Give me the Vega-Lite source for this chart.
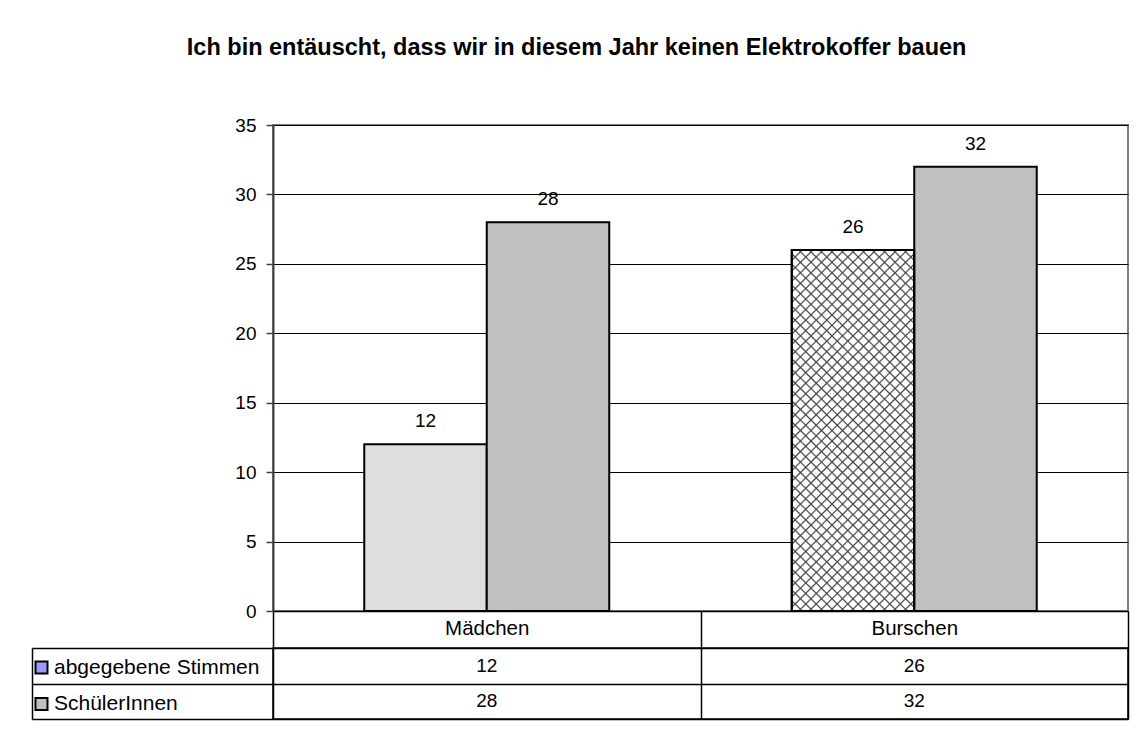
{
  "$schema": "https://vega.github.io/schema/vega-lite/v6.json",
  "background": "white",
  "padding": {"left": 30, "top": 36, "right": 5, "bottom": 5},
  "bounds": "flush",
  "spacing": 37,
  "title": {
    "text": "Ich bin entäuscht, dass wir in diesem Jahr keinen Elektrokoffer bauen",
    "fontSize": 23.5,
    "fontWeight": "bold",
    "font": "Liberation Sans",
    "color": "black",
    "anchor": "middle",
    "dx": -3.5,
    "offset": 55.5
  },
  "datasets": {
    "werte": [
      {"kategorie": "Mädchen", "serie": "abgegebene Stimmen", "wert": 12},
      {"kategorie": "Mädchen", "serie": "SchülerInnen", "wert": 28},
      {"kategorie": "Burschen", "serie": "abgegebene Stimmen", "wert": 26},
      {"kategorie": "Burschen", "serie": "SchülerInnen", "wert": 32}
    ]
  },
  "vconcat": [
    {
      "width": 855,
      "height": 486,
      "data": {"name": "werte"},
      "view": {"stroke": "#808080", "strokeWidth": 2},
      "encoding": {
        "x": {
          "field": "kategorie",
          "type": "nominal",
          "sort": ["Mädchen", "Burschen"],
          "scale": {"paddingInner": 0, "paddingOuter": 0},
          "axis": {
            "title": null,
            "labelAngle": 0,
            "tickBand": "extent",
            "tickSize": 37,
            "tickColor": "black",
            "tickWidth": 1.5,
            "domainColor": "black",
            "domainWidth": 1.5,
            "labelPadding": -30,
            "labelFontSize": 20.5,
            "labelColor": "black",
            "grid": false
          }
        },
        "xOffset": {
          "field": "serie",
          "type": "nominal",
          "sort": ["abgegebene Stimmen", "SchülerInnen"],
          "scale": {"paddingInner": 0, "paddingOuter": 0.745}
        },
        "y": {
          "field": "wert",
          "type": "quantitative",
          "scale": {"domain": [0, 35], "nice": false},
          "axis": {
            "title": null,
            "values": [0, 5, 10, 15, 20, 25, 30, 35],
            "domainColor": "#404040",
            "domainWidth": 2,
            "tickColor": "#404040",
            "tickWidth": 1.5,
            "tickSize": 7,
            "labelPadding": 10,
            "labelFontSize": 19,
            "labelColor": "black",
            "grid": true,
            "gridColor": "black",
            "gridWidth": 1,
            "gridOpacity": 1
          }
        }
      },
      "layer": [
        {
          "mark": {"type": "bar", "stroke": "black", "strokeWidth": 2},
          "encoding": {
            "fill": {
              "condition": [
                {"test": "datum.serie === 'SchülerInnen'", "value": "#c0c0c0"},
                {"test": "datum.kategorie === 'Mädchen'", "value": "#dedede"}
              ],
              "value": {
                "gradient": "linear",
                "x1": 0, "y1": 0, "x2": 0.4076, "y2": 1.2011,
                "stops": [
                  {"offset": 0, "color": "#444"}, {"offset": 0.0035, "color": "#fff"}, {"offset": 0.0182, "color": "#fff"},
                  {"offset": 0.0217, "color": "#444"}, {"offset": 0.0252, "color": "#fff"}, {"offset": 0.0400, "color": "#fff"},
                  {"offset": 0.0435, "color": "#444"}, {"offset": 0.0470, "color": "#fff"}, {"offset": 0.0617, "color": "#fff"},
                  {"offset": 0.0652, "color": "#444"}, {"offset": 0.0687, "color": "#fff"}, {"offset": 0.0835, "color": "#fff"},
                  {"offset": 0.0870, "color": "#444"}, {"offset": 0.0905, "color": "#fff"}, {"offset": 0.1052, "color": "#fff"},
                  {"offset": 0.1087, "color": "#444"}, {"offset": 0.1122, "color": "#fff"}, {"offset": 0.1269, "color": "#fff"},
                  {"offset": 0.1304, "color": "#444"}, {"offset": 0.1339, "color": "#fff"}, {"offset": 0.1487, "color": "#fff"},
                  {"offset": 0.1522, "color": "#444"}, {"offset": 0.1557, "color": "#fff"}, {"offset": 0.1704, "color": "#fff"},
                  {"offset": 0.1739, "color": "#444"}, {"offset": 0.1774, "color": "#fff"}, {"offset": 0.1922, "color": "#fff"},
                  {"offset": 0.1957, "color": "#444"}, {"offset": 0.1992, "color": "#fff"}, {"offset": 0.2139, "color": "#fff"},
                  {"offset": 0.2174, "color": "#444"}, {"offset": 0.2209, "color": "#fff"}, {"offset": 0.2356, "color": "#fff"},
                  {"offset": 0.2391, "color": "#444"}, {"offset": 0.2426, "color": "#fff"}, {"offset": 0.2574, "color": "#fff"},
                  {"offset": 0.2609, "color": "#444"}, {"offset": 0.2644, "color": "#fff"}, {"offset": 0.2791, "color": "#fff"},
                  {"offset": 0.2826, "color": "#444"}, {"offset": 0.2861, "color": "#fff"}, {"offset": 0.3008, "color": "#fff"},
                  {"offset": 0.3043, "color": "#444"}, {"offset": 0.3078, "color": "#fff"}, {"offset": 0.3226, "color": "#fff"},
                  {"offset": 0.3261, "color": "#444"}, {"offset": 0.3296, "color": "#fff"}, {"offset": 0.3443, "color": "#fff"},
                  {"offset": 0.3478, "color": "#444"}, {"offset": 0.3513, "color": "#fff"}, {"offset": 0.3661, "color": "#fff"},
                  {"offset": 0.3696, "color": "#444"}, {"offset": 0.3731, "color": "#fff"}, {"offset": 0.3878, "color": "#fff"},
                  {"offset": 0.3913, "color": "#444"}, {"offset": 0.3948, "color": "#fff"}, {"offset": 0.4095, "color": "#fff"},
                  {"offset": 0.4130, "color": "#444"}, {"offset": 0.4165, "color": "#fff"}, {"offset": 0.4313, "color": "#fff"},
                  {"offset": 0.4348, "color": "#444"}, {"offset": 0.4383, "color": "#fff"}, {"offset": 0.4530, "color": "#fff"},
                  {"offset": 0.4565, "color": "#444"}, {"offset": 0.4600, "color": "#fff"}, {"offset": 0.4748, "color": "#fff"},
                  {"offset": 0.4783, "color": "#444"}, {"offset": 0.4818, "color": "#fff"}, {"offset": 0.4965, "color": "#fff"},
                  {"offset": 0.5000, "color": "#444"}, {"offset": 0.5035, "color": "#fff"}, {"offset": 0.5182, "color": "#fff"},
                  {"offset": 0.5217, "color": "#444"}, {"offset": 0.5252, "color": "#fff"}, {"offset": 0.5400, "color": "#fff"},
                  {"offset": 0.5435, "color": "#444"}, {"offset": 0.5470, "color": "#fff"}, {"offset": 0.5617, "color": "#fff"},
                  {"offset": 0.5652, "color": "#444"}, {"offset": 0.5687, "color": "#fff"}, {"offset": 0.5835, "color": "#fff"},
                  {"offset": 0.5870, "color": "#444"}, {"offset": 0.5905, "color": "#fff"}, {"offset": 0.6052, "color": "#fff"},
                  {"offset": 0.6087, "color": "#444"}, {"offset": 0.6122, "color": "#fff"}, {"offset": 0.6269, "color": "#fff"},
                  {"offset": 0.6304, "color": "#444"}, {"offset": 0.6339, "color": "#fff"}, {"offset": 0.6487, "color": "#fff"},
                  {"offset": 0.6522, "color": "#444"}, {"offset": 0.6557, "color": "#fff"}, {"offset": 0.6704, "color": "#fff"},
                  {"offset": 0.6739, "color": "#444"}, {"offset": 0.6774, "color": "#fff"}, {"offset": 0.6922, "color": "#fff"},
                  {"offset": 0.6957, "color": "#444"}, {"offset": 0.6992, "color": "#fff"}, {"offset": 0.7139, "color": "#fff"},
                  {"offset": 0.7174, "color": "#444"}, {"offset": 0.7209, "color": "#fff"}, {"offset": 0.7356, "color": "#fff"},
                  {"offset": 0.7391, "color": "#444"}, {"offset": 0.7426, "color": "#fff"}, {"offset": 0.7574, "color": "#fff"},
                  {"offset": 0.7609, "color": "#444"}, {"offset": 0.7644, "color": "#fff"}, {"offset": 0.7791, "color": "#fff"},
                  {"offset": 0.7826, "color": "#444"}, {"offset": 0.7861, "color": "#fff"}, {"offset": 0.8008, "color": "#fff"},
                  {"offset": 0.8043, "color": "#444"}, {"offset": 0.8078, "color": "#fff"}, {"offset": 0.8226, "color": "#fff"},
                  {"offset": 0.8261, "color": "#444"}, {"offset": 0.8296, "color": "#fff"}, {"offset": 0.8443, "color": "#fff"},
                  {"offset": 0.8478, "color": "#444"}, {"offset": 0.8513, "color": "#fff"}, {"offset": 0.8661, "color": "#fff"},
                  {"offset": 0.8696, "color": "#444"}, {"offset": 0.8731, "color": "#fff"}, {"offset": 0.8878, "color": "#fff"},
                  {"offset": 0.8913, "color": "#444"}, {"offset": 0.8948, "color": "#fff"}, {"offset": 0.9095, "color": "#fff"},
                  {"offset": 0.9130, "color": "#444"}, {"offset": 0.9165, "color": "#fff"}, {"offset": 0.9313, "color": "#fff"},
                  {"offset": 0.9348, "color": "#444"}, {"offset": 0.9383, "color": "#fff"}, {"offset": 0.9530, "color": "#fff"},
                  {"offset": 0.9565, "color": "#444"}, {"offset": 0.9600, "color": "#fff"}, {"offset": 0.9748, "color": "#fff"},
                  {"offset": 0.9783, "color": "#444"}, {"offset": 0.9818, "color": "#fff"}, {"offset": 0.9965, "color": "#fff"},
                  {"offset": 1, "color": "#444"}
                ]
              }
            }
          }
        },
        {
          "transform": [{"filter": "datum.serie === 'abgegebene Stimmen' && datum.kategorie === 'Burschen'"}],
          "mark": {
            "type": "bar",
            "stroke": "black",
            "strokeWidth": 2,
            "fill": {
              "gradient": "linear",
              "x1": 1, "y1": 0, "x2": 0.5924, "y2": 1.2011,
              "stops": [
                {"offset": 0, "color": "#444"}, {"offset": 0.0035, "color": "rgba(68,68,68,0)"}, {"offset": 0.0182, "color": "rgba(68,68,68,0)"},
                {"offset": 0.0217, "color": "#444"}, {"offset": 0.0252, "color": "rgba(68,68,68,0)"}, {"offset": 0.0400, "color": "rgba(68,68,68,0)"},
                {"offset": 0.0435, "color": "#444"}, {"offset": 0.0470, "color": "rgba(68,68,68,0)"}, {"offset": 0.0617, "color": "rgba(68,68,68,0)"},
                {"offset": 0.0652, "color": "#444"}, {"offset": 0.0687, "color": "rgba(68,68,68,0)"}, {"offset": 0.0835, "color": "rgba(68,68,68,0)"},
                {"offset": 0.0870, "color": "#444"}, {"offset": 0.0905, "color": "rgba(68,68,68,0)"}, {"offset": 0.1052, "color": "rgba(68,68,68,0)"},
                {"offset": 0.1087, "color": "#444"}, {"offset": 0.1122, "color": "rgba(68,68,68,0)"}, {"offset": 0.1269, "color": "rgba(68,68,68,0)"},
                {"offset": 0.1304, "color": "#444"}, {"offset": 0.1339, "color": "rgba(68,68,68,0)"}, {"offset": 0.1487, "color": "rgba(68,68,68,0)"},
                {"offset": 0.1522, "color": "#444"}, {"offset": 0.1557, "color": "rgba(68,68,68,0)"}, {"offset": 0.1704, "color": "rgba(68,68,68,0)"},
                {"offset": 0.1739, "color": "#444"}, {"offset": 0.1774, "color": "rgba(68,68,68,0)"}, {"offset": 0.1922, "color": "rgba(68,68,68,0)"},
                {"offset": 0.1957, "color": "#444"}, {"offset": 0.1992, "color": "rgba(68,68,68,0)"}, {"offset": 0.2139, "color": "rgba(68,68,68,0)"},
                {"offset": 0.2174, "color": "#444"}, {"offset": 0.2209, "color": "rgba(68,68,68,0)"}, {"offset": 0.2356, "color": "rgba(68,68,68,0)"},
                {"offset": 0.2391, "color": "#444"}, {"offset": 0.2426, "color": "rgba(68,68,68,0)"}, {"offset": 0.2574, "color": "rgba(68,68,68,0)"},
                {"offset": 0.2609, "color": "#444"}, {"offset": 0.2644, "color": "rgba(68,68,68,0)"}, {"offset": 0.2791, "color": "rgba(68,68,68,0)"},
                {"offset": 0.2826, "color": "#444"}, {"offset": 0.2861, "color": "rgba(68,68,68,0)"}, {"offset": 0.3008, "color": "rgba(68,68,68,0)"},
                {"offset": 0.3043, "color": "#444"}, {"offset": 0.3078, "color": "rgba(68,68,68,0)"}, {"offset": 0.3226, "color": "rgba(68,68,68,0)"},
                {"offset": 0.3261, "color": "#444"}, {"offset": 0.3296, "color": "rgba(68,68,68,0)"}, {"offset": 0.3443, "color": "rgba(68,68,68,0)"},
                {"offset": 0.3478, "color": "#444"}, {"offset": 0.3513, "color": "rgba(68,68,68,0)"}, {"offset": 0.3661, "color": "rgba(68,68,68,0)"},
                {"offset": 0.3696, "color": "#444"}, {"offset": 0.3731, "color": "rgba(68,68,68,0)"}, {"offset": 0.3878, "color": "rgba(68,68,68,0)"},
                {"offset": 0.3913, "color": "#444"}, {"offset": 0.3948, "color": "rgba(68,68,68,0)"}, {"offset": 0.4095, "color": "rgba(68,68,68,0)"},
                {"offset": 0.4130, "color": "#444"}, {"offset": 0.4165, "color": "rgba(68,68,68,0)"}, {"offset": 0.4313, "color": "rgba(68,68,68,0)"},
                {"offset": 0.4348, "color": "#444"}, {"offset": 0.4383, "color": "rgba(68,68,68,0)"}, {"offset": 0.4530, "color": "rgba(68,68,68,0)"},
                {"offset": 0.4565, "color": "#444"}, {"offset": 0.4600, "color": "rgba(68,68,68,0)"}, {"offset": 0.4748, "color": "rgba(68,68,68,0)"},
                {"offset": 0.4783, "color": "#444"}, {"offset": 0.4818, "color": "rgba(68,68,68,0)"}, {"offset": 0.4965, "color": "rgba(68,68,68,0)"},
                {"offset": 0.5000, "color": "#444"}, {"offset": 0.5035, "color": "rgba(68,68,68,0)"}, {"offset": 0.5182, "color": "rgba(68,68,68,0)"},
                {"offset": 0.5217, "color": "#444"}, {"offset": 0.5252, "color": "rgba(68,68,68,0)"}, {"offset": 0.5400, "color": "rgba(68,68,68,0)"},
                {"offset": 0.5435, "color": "#444"}, {"offset": 0.5470, "color": "rgba(68,68,68,0)"}, {"offset": 0.5617, "color": "rgba(68,68,68,0)"},
                {"offset": 0.5652, "color": "#444"}, {"offset": 0.5687, "color": "rgba(68,68,68,0)"}, {"offset": 0.5835, "color": "rgba(68,68,68,0)"},
                {"offset": 0.5870, "color": "#444"}, {"offset": 0.5905, "color": "rgba(68,68,68,0)"}, {"offset": 0.6052, "color": "rgba(68,68,68,0)"},
                {"offset": 0.6087, "color": "#444"}, {"offset": 0.6122, "color": "rgba(68,68,68,0)"}, {"offset": 0.6269, "color": "rgba(68,68,68,0)"},
                {"offset": 0.6304, "color": "#444"}, {"offset": 0.6339, "color": "rgba(68,68,68,0)"}, {"offset": 0.6487, "color": "rgba(68,68,68,0)"},
                {"offset": 0.6522, "color": "#444"}, {"offset": 0.6557, "color": "rgba(68,68,68,0)"}, {"offset": 0.6704, "color": "rgba(68,68,68,0)"},
                {"offset": 0.6739, "color": "#444"}, {"offset": 0.6774, "color": "rgba(68,68,68,0)"}, {"offset": 0.6922, "color": "rgba(68,68,68,0)"},
                {"offset": 0.6957, "color": "#444"}, {"offset": 0.6992, "color": "rgba(68,68,68,0)"}, {"offset": 0.7139, "color": "rgba(68,68,68,0)"},
                {"offset": 0.7174, "color": "#444"}, {"offset": 0.7209, "color": "rgba(68,68,68,0)"}, {"offset": 0.7356, "color": "rgba(68,68,68,0)"},
                {"offset": 0.7391, "color": "#444"}, {"offset": 0.7426, "color": "rgba(68,68,68,0)"}, {"offset": 0.7574, "color": "rgba(68,68,68,0)"},
                {"offset": 0.7609, "color": "#444"}, {"offset": 0.7644, "color": "rgba(68,68,68,0)"}, {"offset": 0.7791, "color": "rgba(68,68,68,0)"},
                {"offset": 0.7826, "color": "#444"}, {"offset": 0.7861, "color": "rgba(68,68,68,0)"}, {"offset": 0.8008, "color": "rgba(68,68,68,0)"},
                {"offset": 0.8043, "color": "#444"}, {"offset": 0.8078, "color": "rgba(68,68,68,0)"}, {"offset": 0.8226, "color": "rgba(68,68,68,0)"},
                {"offset": 0.8261, "color": "#444"}, {"offset": 0.8296, "color": "rgba(68,68,68,0)"}, {"offset": 0.8443, "color": "rgba(68,68,68,0)"},
                {"offset": 0.8478, "color": "#444"}, {"offset": 0.8513, "color": "rgba(68,68,68,0)"}, {"offset": 0.8661, "color": "rgba(68,68,68,0)"},
                {"offset": 0.8696, "color": "#444"}, {"offset": 0.8731, "color": "rgba(68,68,68,0)"}, {"offset": 0.8878, "color": "rgba(68,68,68,0)"},
                {"offset": 0.8913, "color": "#444"}, {"offset": 0.8948, "color": "rgba(68,68,68,0)"}, {"offset": 0.9095, "color": "rgba(68,68,68,0)"},
                {"offset": 0.9130, "color": "#444"}, {"offset": 0.9165, "color": "rgba(68,68,68,0)"}, {"offset": 0.9313, "color": "rgba(68,68,68,0)"},
                {"offset": 0.9348, "color": "#444"}, {"offset": 0.9383, "color": "rgba(68,68,68,0)"}, {"offset": 0.9530, "color": "rgba(68,68,68,0)"},
                {"offset": 0.9565, "color": "#444"}, {"offset": 0.9600, "color": "rgba(68,68,68,0)"}, {"offset": 0.9748, "color": "rgba(68,68,68,0)"},
                {"offset": 0.9783, "color": "#444"}, {"offset": 0.9818, "color": "rgba(68,68,68,0)"}, {"offset": 0.9965, "color": "rgba(68,68,68,0)"},
                {"offset": 1, "color": "#444"}
              ]
            }
          }
        },
        {
          "mark": {"type": "text", "fontSize": 19, "color": "black", "baseline": "alphabetic", "dy": -17},
          "encoding": {"text": {"field": "wert", "type": "quantitative"}}
        }
      ]
    },
    {
      "width": 855,
      "height": 71,
      "data": {"name": "werte"},
      "view": {"stroke": "black", "strokeWidth": 1.5},
      "encoding": {
        "x": {
          "field": "kategorie",
          "type": "nominal",
          "sort": ["Mädchen", "Burschen"],
          "scale": {"paddingInner": 0, "paddingOuter": 0},
          "axis": {
            "title": null,
            "labels": false,
            "ticks": false,
            "domain": false,
            "grid": true,
            "tickBand": "extent",
            "gridColor": "black",
            "gridWidth": 1.5,
            "gridOpacity": 1
          }
        },
        "y": {
          "field": "serie",
          "type": "nominal",
          "sort": ["abgegebene Stimmen", "SchülerInnen"],
          "scale": {"paddingInner": 0, "paddingOuter": 0},
          "axis": {
            "title": null,
            "labels": false,
            "offset": 241,
            "tickSize": -241,
            "tickBand": "extent",
            "tickColor": "black",
            "tickWidth": 1.5,
            "domain": true,
            "domainColor": "black",
            "domainWidth": 1.5,
            "grid": true,
            "gridColor": "black",
            "gridWidth": 1.5,
            "gridOpacity": 1
          }
        }
      },
      "layer": [
        {
          "mark": {"type": "text", "fontSize": 19, "color": "black", "baseline": "middle", "align": "center"},
          "encoding": {"text": {"field": "wert", "type": "quantitative"}}
        },
        {
          "mark": {"type": "square", "opacity": 0, "filled": true},
          "encoding": {
            "color": {
              "field": "serie",
              "type": "nominal",
              "sort": ["abgegebene Stimmen", "SchülerInnen"],
              "scale": {"domain": ["abgegebene Stimmen", "SchülerInnen"], "range": ["#9999ff", "#c0c0c0"]},
              "legend": {
                "title": null,
                "orient": "none",
                "legendX": -242,
                "legendY": 532,
                "direction": "vertical",
                "padding": 0,
                "rowPadding": 14.5,
                "symbolType": "square",
                "symbolSize": 144,
                "symbolStrokeColor": "black",
                "symbolStrokeWidth": 2,
                "symbolOpacity": 1,
                "labelFontSize": 21,
                "labelColor": "black",
                "labelOffset": 2,
                "labelLimit": 300,
                "encode": {
                  "symbols": {
                    "update": {
                      "opacity": {"value": 1},
                      "stroke": {"value": "black"},
                      "strokeWidth": {"value": 2}
                    }
                  }
                }
              }
            }
          }
        }
      ]
    }
  ],
  "config": {
    "font": "Liberation Sans",
    "axis": {"labelFont": "Liberation Sans"},
    "legend": {"labelFont": "Liberation Sans"}
  }
}
